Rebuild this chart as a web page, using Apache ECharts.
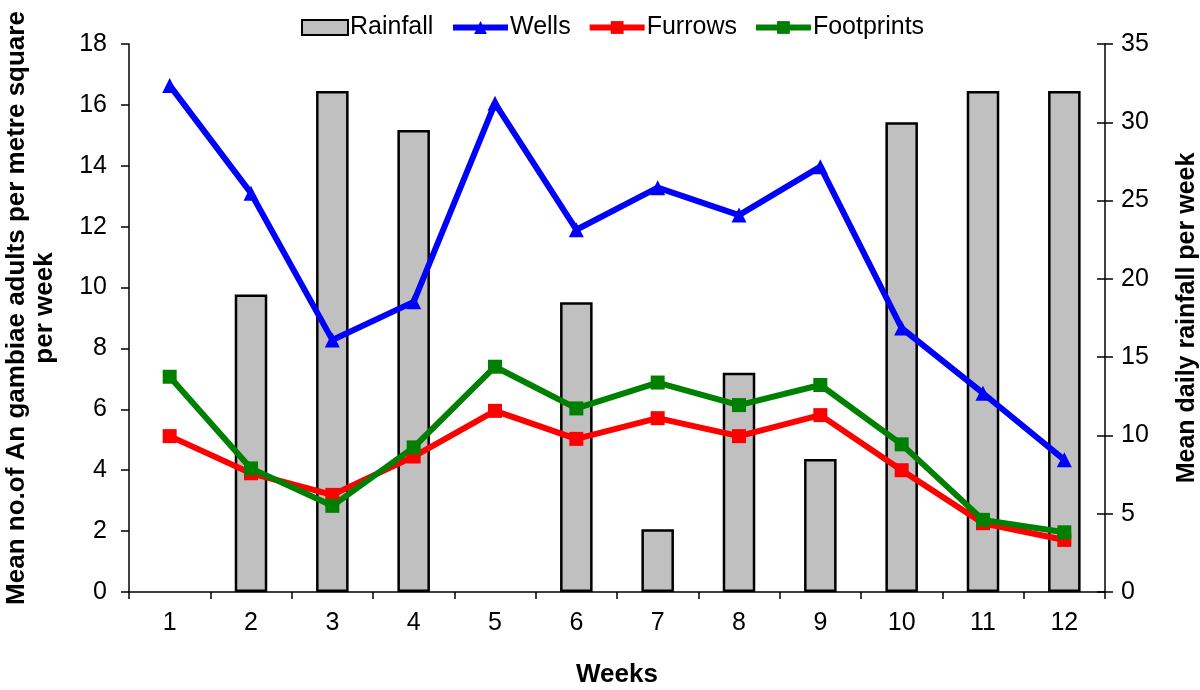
<!DOCTYPE html>
<html>
<head>
<meta charset="utf-8">
<script src="https://cdn.jsdelivr.net/npm/echarts@6/dist/echarts.min.js"></script>
<style>
html,body{margin:0;padding:0;background:#fff;}
#chart{width:1200px;height:690px;}
</style>
</head>
<body>
<div id="chart"></div>
<script>
const weeks = ['1','2','3','4','5','6','7','8','9','10','11','12'];
const rainfall = [null, 19, 32, 29.5, null, 18.5, 4, 14, 8.5, 30, 32, 32];
const wells = [16.64, 13.1, 8.28, 9.53, 16.05, 11.9, 13.28, 12.38, 13.97, 8.67, 6.53, 4.34];
const furrows = [5.12, 3.9, 3.19, 4.45, 5.95, 5.03, 5.71, 5.12, 5.81, 4.0, 2.26, 1.71];
const footprints = [7.07, 4.06, 2.83, 4.75, 7.4, 6.03, 6.88, 6.14, 6.8, 4.85, 2.37, 1.96];
const leftTicks = { min: 0, max: 18, interval: 2 };
const rightTicks = { min: 0, max: 35, interval: 5 };

const FONT = '"Liberation Sans", Arial, Helvetica, sans-serif';
const chart = echarts.init(document.getElementById('chart'));
const lineSeries = (name, data, color, symbol) => ({
  name, type: 'line', data, yAxisIndex: 0,
  symbol, symbolSize: symbol === 'triangle' ? 15 : 14,
  lineStyle: { color, width: 6 },
  itemStyle: { color },
  z: 5
});
const legendText = { fontSize: 25, color: '#000', fontFamily: FONT, padding: [0, 0, 0, -3] };
chart.setOption({
  animation: false,
  textStyle: { fontFamily: FONT },
  legend: [
    {
      top: 10, left: 296,
      itemWidth: 46, itemHeight: 15,
      textStyle: legendText,
      data: [{ name: 'Rainfall', icon: 'rect' }]
    },
    {
      top: 10, left: 445,
      itemGap: 16, itemWidth: 55, itemHeight: 16,
      lineStyle: { width: 6 },
      textStyle: legendText,
      data: ['Wells', 'Furrows', 'Footprints']
    }
  ],
  grid: { left: 129, right: 95, top: 44, bottom: 98, containLabel: false, outerBoundsMode: 'none' },
  xAxis: {
    type: 'category', data: weeks,
    name: 'Weeks', nameLocation: 'middle', nameGap: 70,
    nameTextStyle: { fontSize: 26, fontWeight: 'bold', color: '#000', fontFamily: FONT },
    axisLine: { lineStyle: { color: '#000', width: 1.5 } },
    axisTick: { show: true, length: 7, lineStyle: { color: '#000', width: 1.5 } },
    axisLabel: { fontSize: 25, color: '#000', margin: 19, fontFamily: FONT }
  },
  yAxis: [
    {
      type: 'value', position: 'left', ...leftTicks,
      name: 'Mean no.of An gambiae adults per metre square\nper week',
      nameLocation: 'middle', nameGap: 70, nameRotate: 90,
      nameTextStyle: { fontSize: 26, fontWeight: 'bold', color: '#000', lineHeight: 28, fontFamily: FONT, padding: [0, 0, 0, 20] },
      splitLine: { show: false },
      axisLine: { show: true, lineStyle: { color: '#000', width: 1.5 } },
      axisTick: { show: true, length: 8, lineStyle: { color: '#000', width: 1.5 } },
      axisLabel: { fontSize: 25, color: '#000', margin: 22, fontFamily: FONT }
    },
    {
      type: 'value', position: 'right', ...rightTicks,
      name: 'Mean daily rainfall per week',
      nameLocation: 'middle', nameGap: 70, nameRotate: 90,
      nameTextStyle: { fontSize: 25, fontWeight: 'bold', color: '#000', fontFamily: FONT },
      splitLine: { show: false },
      axisLine: { show: true, lineStyle: { color: '#000', width: 1.5 } },
      axisTick: { show: true, length: 8, lineStyle: { color: '#000', width: 1.5 } },
      axisLabel: { fontSize: 25, color: '#000', margin: 16, fontFamily: FONT }
    },
    {
      type: 'value', position: 'right', ...rightTicks,
      splitLine: { show: false },
      axisLine: { show: false },
      axisTick: { show: true, inside: true, length: 8, lineStyle: { color: '#000', width: 1.5 } },
      axisLabel: { show: false }
    }
  ],
  series: [
    {
      name: 'Rainfall', type: 'bar', data: rainfall, yAxisIndex: 1,
      barWidth: '40%',
      itemStyle: { color: '#C0C0C0', borderColor: '#000', borderWidth: 2.5 },
      z: 2
    },
    lineSeries('Wells', wells, '#0000FF', 'triangle'),
    lineSeries('Furrows', furrows, '#FF0000', 'rect'),
    lineSeries('Footprints', footprints, '#008000', 'rect')
  ]
});
</script>
</body>
</html>
